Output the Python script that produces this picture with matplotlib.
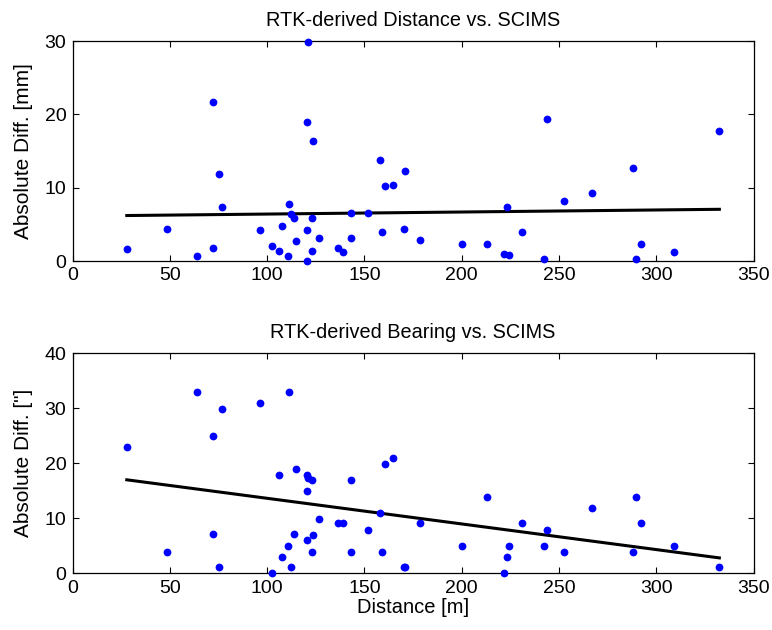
import matplotlib
matplotlib.use("Agg")
import matplotlib.pyplot as plt
import numpy as np

plt.rcParams['font.family'] = ['Liberation Sans', 'DejaVu Sans']

distance = [27.9, 48.7, 63.8, 72.0, 72.0, 75.3, 77.0, 96.2, 102.5, 106.0,
            107.5, 110.7, 111.4, 112.1, 114.0, 114.7, 120.3, 120.3, 120.8, 120.3,
            122.9, 122.9, 123.6, 126.8, 136.5, 138.9, 143.0, 143.0, 151.7, 158.2,
            159.0, 160.6, 164.9, 170.3, 171.0, 178.4, 200.2, 213.2, 221.9, 223.4,
            224.3, 230.8, 242.1, 243.7, 252.4, 267.0, 288.0, 289.6, 292.0, 309.0,
            332.4]
dist_diff_mm = [1.6, 4.4, 0.7, 1.8, 21.7, 11.9, 7.4, 4.2, 2.0, 1.4,
                4.8, 0.7, 7.8, 6.4, 5.9, 2.7, 4.2, 18.9, 29.8, 0.0,
                5.9, 1.4, 16.4, 3.1, 1.8, 1.2, 3.1, 6.5, 6.5, 13.8,
                4.0, 10.2, 10.4, 4.4, 12.3, 2.9, 2.3, 2.3, 1.0, 7.4,
                0.8, 4.0, 0.3, 19.4, 8.2, 9.3, 12.7, 0.3, 2.3, 1.2,
                17.7]
bearing_diff_sec = [23.0, 3.9, 33.0, 25.0, 7.1, 1.1, 29.9, 31.0, 0.0, 17.9,
                    3.0, 5.0, 33.0, 1.1, 7.1, 19.0, 17.9, 15.0, 17.4, 6.0,
                    17.0, 3.9, 7.0, 9.9, 9.1, 9.1, 17.0, 3.9, 7.9, 11.0,
                    3.9, 19.9, 21.0, 1.1, 1.1, 9.1, 5.0, 13.9, 0.0, 3.0,
                    5.0, 9.1, 5.0, 7.9, 3.9, 11.9, 3.9, 13.9, 9.1, 5.0,
                    1.1]

fit_x = [27.9, 332.4]
fit_dist = [6.2, 7.05]
fit_bearing = [17.0, 2.8]

xticks = [0, 50, 100, 150, 200, 250, 300, 350]
yticks_top = [0, 10, 20, 30]
yticks_bot = [0, 10, 20, 30, 40]

W, H = 772, 630
fig = plt.figure(figsize=(W / 100, H / 100), dpi=100)

def add_ax(left, top, right, bottom):
    return fig.add_axes([left / W, 1 - bottom / H, (right - left) / W, (bottom - top) / H])

ax1 = add_ax(72.5, 41, 753.6, 261)
ax2 = add_ax(72.5, 353.3, 753.6, 573.3)

for ax, yv, fy, yt, ylim, title, ylabel in [
    (ax1, dist_diff_mm, fit_dist, yticks_top, (0, 30), 'RTK-derived Distance vs. SCIMS', 'Absolute Diff. [mm]'),
    (ax2, bearing_diff_sec, fit_bearing, yticks_bot, (0, 40), 'RTK-derived Bearing vs. SCIMS', 'Absolute Diff. ["]'),
]:
    ax.plot(distance, yv, linestyle='none', marker='o', markersize=5.6,
            markeredgewidth=0, markerfacecolor=(0, 0, 1), clip_on=False, zorder=3)
    ax.plot(fit_x, fy, color='black', linewidth=2.2, zorder=2)
    ax.set_xlim(0, 350)
    ax.set_ylim(*ylim)
    ax.set_xticks(xticks)
    ax.set_yticks(yt)
    ax.tick_params(direction='in', top=True, right=True, length=4, width=0.8,
                   labelsize=14, colors='black', pad=4.5)
    for s in ax.spines.values():
        s.set_linewidth(0.9)
        s.set_color('black')
    ax.set_title(title, fontsize=14.3, pad=11)
    ax.set_ylabel(ylabel, fontsize=15, labelpad=8)

ax2.set_xlabel('Distance [m]', fontsize=14.5, labelpad=1)

fig.savefig('out.png', dpi=100, facecolor='white')
